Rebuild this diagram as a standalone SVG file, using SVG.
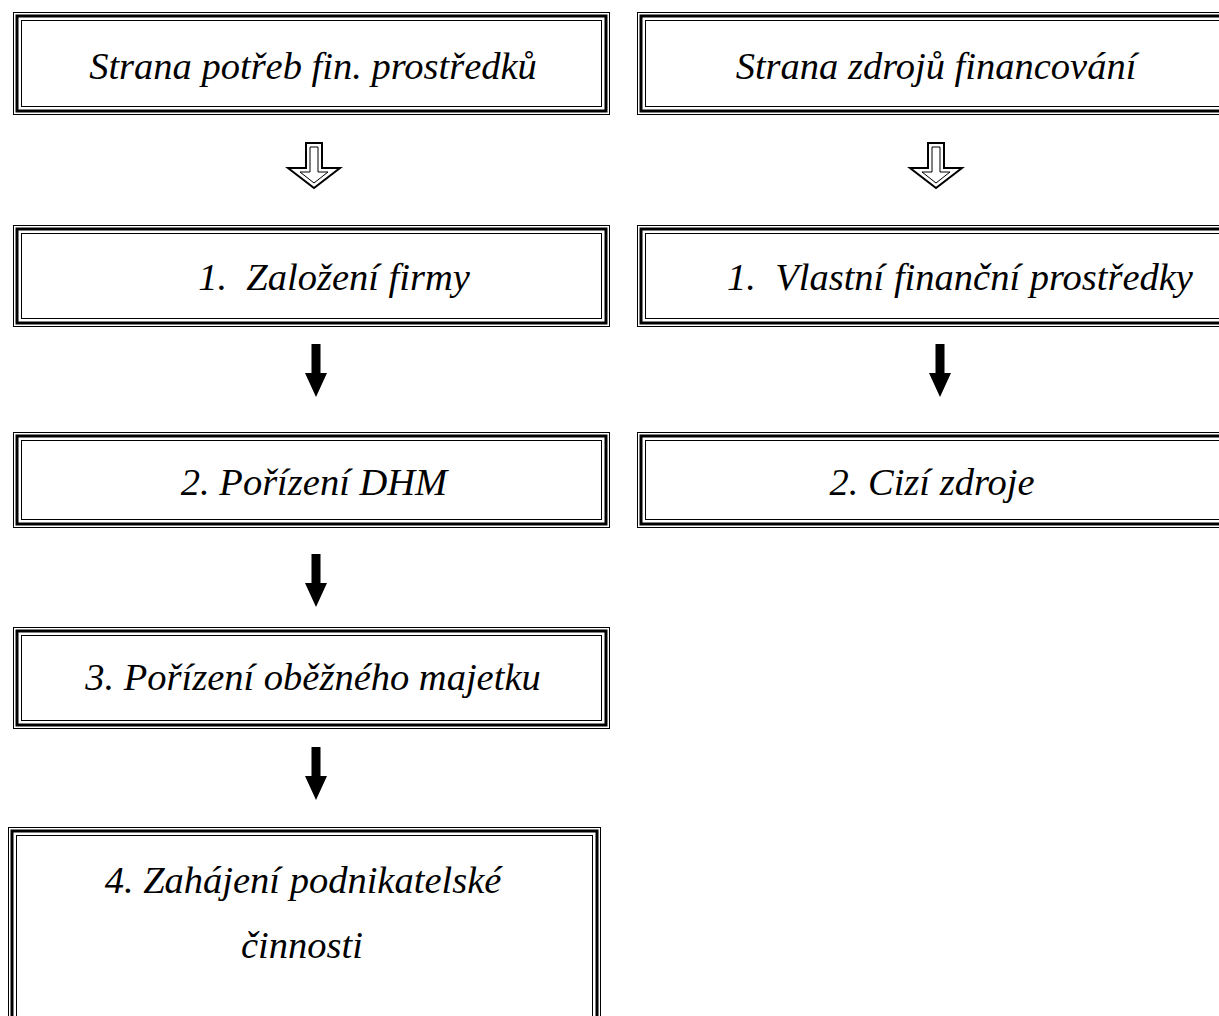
<svg xmlns="http://www.w3.org/2000/svg" width="1219" height="1016" viewBox="0 0 1219 1016">
<style>
.o{fill:#fff;stroke:#000;stroke-width:1}
.m{fill:none;stroke:#000;stroke-width:3}
.i{fill:none;stroke:#000;stroke-width:1}
.t{font-family:"Liberation Serif","Times New Roman",serif;font-style:italic;font-size:38.5px;fill:#000;text-anchor:middle}
.ha{fill:#fff;stroke:#000;stroke-width:2;stroke-linejoin:miter}
.hi{fill:none;stroke:#000;stroke-width:1}
.sa{fill:#000}
</style>
<defs>
<g id="hollow">
<polygon class="ha" points="-8,0 8,0 8,25 26,25 0,45 -26,25 -8,25"/>
<polygon class="hi" points="-4,4 4,4 4,29 14,29 0,40 -14,29 -4,29"/>
</g>
<polygon id="solid" class="sa" points="-4.5,0 4.5,0 4.5,29 11,29 0,53 -11,29 -4.5,29"/>
</defs>
<rect width="1219" height="1016" fill="#fff"/>
<g id="connectors">
<use href="#hollow" x="314" y="143"/>
<use href="#hollow" x="936" y="143"/>
<use href="#solid" x="316" y="344"/>
<use href="#solid" x="940" y="344"/>
<use href="#solid" x="316" y="554"/>
<use href="#solid" x="316" y="747"/>
</g>
<g id="n1">
<rect class="o" x="13.5" y="12.5" width="596" height="102"/>
<rect class="m" x="17" y="16" width="589" height="95"/>
<rect class="i" x="21.5" y="20.5" width="580" height="86"/>
<text class="t" x="313" y="79">Strana potřeb fin. prostředků</text>
</g>
<g id="n2">
<rect class="o" x="637.5" y="12.5" width="600" height="102"/>
<rect class="m" x="641" y="16" width="600" height="95"/>
<rect class="i" x="645.5" y="20.5" width="600" height="86"/>
<text class="t" x="936" y="79">Strana zdrojů financování</text>
</g>
<g id="n3">
<rect class="o" x="13.5" y="225.5" width="596" height="101"/>
<rect class="m" x="17" y="229" width="589" height="94"/>
<rect class="i" x="21.5" y="233.5" width="580" height="85"/>
<text class="t" x="334" y="290" xml:space="preserve">1.  Založení firmy</text>
</g>
<g id="n4">
<rect class="o" x="637.5" y="225.5" width="600" height="101"/>
<rect class="m" x="641" y="229" width="600" height="94"/>
<rect class="i" x="645.5" y="233.5" width="600" height="85"/>
<text class="t" x="960" y="290" xml:space="preserve">1.  Vlastní finanční prostředky</text>
</g>
<g id="n5">
<rect class="o" x="13.5" y="432.5" width="596" height="95"/>
<rect class="m" x="17" y="436" width="589" height="88"/>
<rect class="i" x="21.5" y="440.5" width="580" height="79"/>
<text class="t" x="314" y="495">2. Pořízení DHM</text>
</g>
<g id="n6">
<rect class="o" x="637.5" y="432.5" width="600" height="95"/>
<rect class="m" x="641" y="436" width="600" height="88"/>
<rect class="i" x="645.5" y="440.5" width="600" height="79"/>
<text class="t" x="932" y="495">2. Cizí zdroje</text>
</g>
<g id="n7">
<rect class="o" x="13.5" y="627.5" width="596" height="101"/>
<rect class="m" x="17" y="631" width="589" height="94"/>
<rect class="i" x="21.5" y="635.5" width="580" height="85"/>
<text class="t" x="313" y="690">3. Pořízení oběžného majetku</text>
</g>
<g id="n8">
<rect class="o" x="8.5" y="827.5" width="592" height="220"/>
<rect class="m" x="12" y="831" width="585" height="220"/>
<rect class="i" x="16.5" y="835.5" width="576" height="220"/>
<text class="t" x="303" y="893">4. Zahájení podnikatelské</text>
<text class="t" x="302" y="958">činnosti</text>
</g>
</svg>
